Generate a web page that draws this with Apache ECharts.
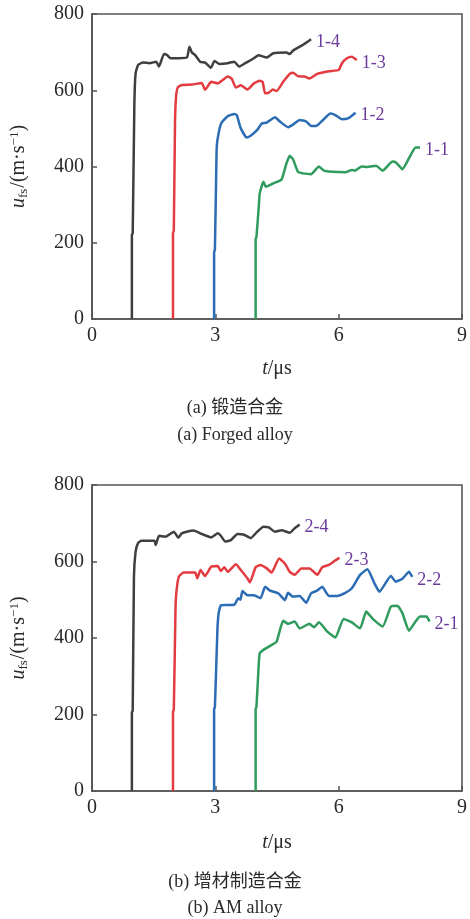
<!DOCTYPE html>
<html><head><meta charset="utf-8">
<script src="https://cdn.jsdelivr.net/npm/echarts@6/dist/echarts.min.js"></script>
<style>html,body{margin:0;padding:0;background:#fff}#c{width:470px;height:919px}</style>
</head><body><div id="c"></div>
<script>
// Tick values
const xTicks = [0, 3, 6, 9];
const yTicks = [0, 200, 400, 600, 800];
const seriesNamesA = ['1-4', '1-3', '1-2', '1-1'];
const seriesNamesB = ['2-4', '2-3', '2-2', '2-1'];
const colors = ['#3f3f3f', '#e23b40', '#2b6cb5', '#2f9b5c'];

// (a) Forged alloy
const t14 = [0.97,0.97,0.99,1.03,1.06,1.12,1.24,1.40,1.56,1.63,1.75,1.83,1.91,2.11,2.31,2.37,2.43,2.51,2.63,2.76,2.89,2.98,3.10,3.30,3.46,3.58,3.74,3.94,4.05,4.25,4.41,4.73,4.81,4.89,5.13,5.33];
const u14 = [0,220,225,560,644,666,673,671,675,662,695,692,684,684,686,714,699,692,675,672,659,677,669,671,675,662,672,684,692,686,697,699,695,704,719,734];
const t13 = [1.97,1.97,1.99,2.02,2.05,2.09,2.19,2.43,2.67,2.75,2.90,3.06,3.18,3.30,3.40,3.50,3.62,3.78,3.94,4.08,4.15,4.21,4.30,4.40,4.49,4.65,4.81,4.89,5.01,5.17,5.29,5.48,5.76,6.00,6.08,6.20,6.32,6.44];
const u13 = [0,225,232,520,590,608,614,615,619,601,622,618,627,636,630,607,613,602,618,625,622,592,594,602,598,622,643,646,637,636,631,643,650,653,671,684,688,679];
const t12 = [2.97,2.97,2.99,3.03,3.05,3.14,3.30,3.46,3.52,3.62,3.76,3.85,4.02,4.13,4.25,4.45,4.57,4.77,4.89,5.05,5.21,5.33,5.45,5.60,5.80,5.92,6.08,6.24,6.41];
const u12 = [0,175,182,440,469,513,532,538,535,500,476,480,496,513,515,529,518,503,510,522,518,506,506,520,539,535,524,527,541];
const t11 = [3.98,3.98,4.00,4.06,4.08,4.17,4.23,4.41,4.61,4.73,4.81,4.89,5.01,5.13,5.33,5.52,5.64,5.84,6.16,6.32,6.40,6.56,6.70,6.91,7.07,7.31,7.40,7.55,7.75,7.87,7.98];
const u11 = [0,210,215,300,330,360,347,356,366,408,428,419,386,382,380,400,389,386,385,391,389,400,399,402,389,413,410,393,430,450,450];

// (b) AM alloy
const t24 = [0.97,0.97,0.99,1.02,1.06,1.12,1.20,1.52,1.55,1.63,1.79,1.99,2.10,2.19,2.47,2.67,2.90,3.06,3.13,3.24,3.38,3.54,3.70,3.86,4.02,4.17,4.30,4.45,4.61,4.81,4.93,5.05];
const u24 = [0,205,210,560,625,648,654,654,643,667,665,678,662,674,681,672,663,674,668,652,656,672,670,661,678,691,689,678,682,675,687,697];
const t23 = [1.97,1.97,1.99,2.03,2.05,2.11,2.23,2.51,2.56,2.64,2.75,2.90,3.06,3.13,3.22,3.30,3.50,3.62,3.78,3.84,3.98,4.10,4.25,4.37,4.55,4.69,4.81,4.93,5.09,5.29,5.48,5.60,5.76,5.88,6.02];
const u23 = [0,207,212,470,517,560,571,571,556,578,562,586,588,575,585,573,593,578,556,545,585,591,582,571,608,595,573,565,582,582,565,585,591,600,610];
const t22 = [2.97,2.97,2.99,3.05,3.08,3.14,3.46,3.56,3.61,3.66,3.78,3.94,4.10,4.21,4.33,4.53,4.69,4.77,4.89,5.05,5.21,5.33,5.48,5.60,5.76,5.96,6.16,6.32,6.52,6.70,6.87,6.99,7.27,7.39,7.55,7.71,7.79];
const u22 = [0,214,220,420,464,486,487,504,500,523,512,512,504,534,524,517,499,518,508,510,492,517,524,534,510,510,518,530,565,580,543,521,562,547,555,573,560];
const t21 = [3.98,3.98,4.00,4.05,4.08,4.17,4.37,4.49,4.65,4.77,4.93,5.05,5.29,5.40,5.52,5.73,5.92,6.12,6.32,6.52,6.67,6.83,7.07,7.27,7.43,7.55,7.71,7.87,7.98,8.14,8.21];
const u21 = [0,214,220,320,360,369,382,390,445,437,443,425,437,428,441,416,401,450,441,425,469,450,430,482,484,465,419,443,456,456,443];

function zip(t, u) { return t.map((v, i) => [v, u[i]]); }

const dataA = [zip(t14,u14), zip(t13,u13), zip(t12,u12), zip(t11,u11)];
const dataB = [zip(t24,u24), zip(t23,u23), zip(t22,u22), zip(t21,u21)];

const SERIF = '"Liberation Serif", "Times New Roman", serif';
const axisCol = '#555';
const textCol = '#2a2a2a';

function xAxisCfg(gi) {
  return {
    type: 'value', gridIndex: gi, min: 0, max: 9, interval: 3,
    name: '{i|t}{n|/μs}', nameLocation: 'middle', nameGap: gi === 0 ? 40 : 42,
    nameTextStyle: { rich: {
      i: { fontFamily: SERIF, fontStyle: 'italic', fontSize: 20, color: textCol },
      n: { fontFamily: SERIF, fontSize: 20, color: textCol } } },
    axisLine: { show: true, onZero: false, lineStyle: { color: axisCol, width: 1.6 } },
    axisTick: { show: true, inside: true, length: 5, lineStyle: { color: axisCol, width: 1.5 } },
    axisLabel: { fontFamily: SERIF, fontSize: 20, color: textCol, margin: 7,
      formatter: v => xTicks.includes(v) ? String(v) : '' },
    splitLine: { show: false }
  };
}
function yAxisCfg(gi) {
  return {
    type: 'value', gridIndex: gi, min: 0, max: 800, interval: 200,
    name: '{i|u}{s|fs}{n|/(m·s}{p|−1}{n|)}', nameLocation: 'middle', nameGap: 62, nameRotate: 90,
    nameTextStyle: { rich: {
      i: { fontFamily: SERIF, fontStyle: 'italic', fontSize: 20, color: textCol },
      s: { fontFamily: SERIF, fontSize: 13, color: textCol, padding: [9, 1, 0, 0] },
      n: { fontFamily: SERIF, fontSize: 20, color: textCol },
      p: { fontFamily: SERIF, fontSize: 13, color: textCol, padding: [0, 0, 9, 0] } } },
    axisLine: { show: true, onZero: false, lineStyle: { color: axisCol, width: 1.6 } },
    axisTick: { show: true, inside: true, length: 5, lineStyle: { color: axisCol, width: 1.5 } },
    axisLabel: { fontFamily: SERIF, fontSize: 20, color: textCol, margin: 8,
      formatter: v => yTicks.includes(v) ? String(v) : '' },
    splitLine: { show: false }
  };
}

function mkSeries(names, datas, gi) {
  return names.map((n, i) => ({
    name: n, type: 'line', xAxisIndex: gi, yAxisIndex: gi,
    data: datas[i], showSymbol: false, symbol: 'none', smooth: 0.15,
    lineStyle: { color: colors[i], width: 2.5 },
    itemStyle: { color: colors[i] },
    endLabel: { show: true, formatter: '{a}', distance: 5, offset: [0, 3],
      fontFamily: SERIF, fontSize: 18, color: '#6a3b9c' },
    animation: false, z: 3
  }));
}

const chart = echarts.init(document.getElementById('c'), null, { renderer: 'canvas' });
chart.setOption({
  backgroundColor: '#fff',
  animation: false,
  grid: [
    { left: 88, top: 14, width: 378, height: 305, show: true, borderColor: axisCol, borderWidth: 1.6, backgroundColor: 'transparent' },
    { left: 88, top: 485, width: 378, height: 306, show: true, borderColor: axisCol, borderWidth: 1.6, backgroundColor: 'transparent' }
  ],
  xAxis: [xAxisCfg(0), xAxisCfg(1)],
  yAxis: [yAxisCfg(0), yAxisCfg(1)],
  series: mkSeries(seriesNamesA, dataA, 0).concat(mkSeries(seriesNamesB, dataB, 1)),
  graphic: [
    { type: 'text', left: 'center', top: 399, style: { text: '(a) 锻造合金', font: '18px "Liberation Serif", "Noto Sans CJK SC", serif', fill: textCol } },
    { type: 'text', left: 'center', top: 426, style: { text: '(a) Forged alloy', font: '18px "Liberation Serif", serif', fill: textCol } },
    { type: 'text', left: 'center', top: 873, style: { text: '(b) 增材制造合金', font: '18px "Liberation Serif", "Noto Sans CJK SC", serif', fill: textCol } },
    { type: 'text', left: 'center', top: 899, style: { text: '(b) AM alloy', font: '18px "Liberation Serif", serif', fill: textCol } }
  ]
});
</script></body></html>
